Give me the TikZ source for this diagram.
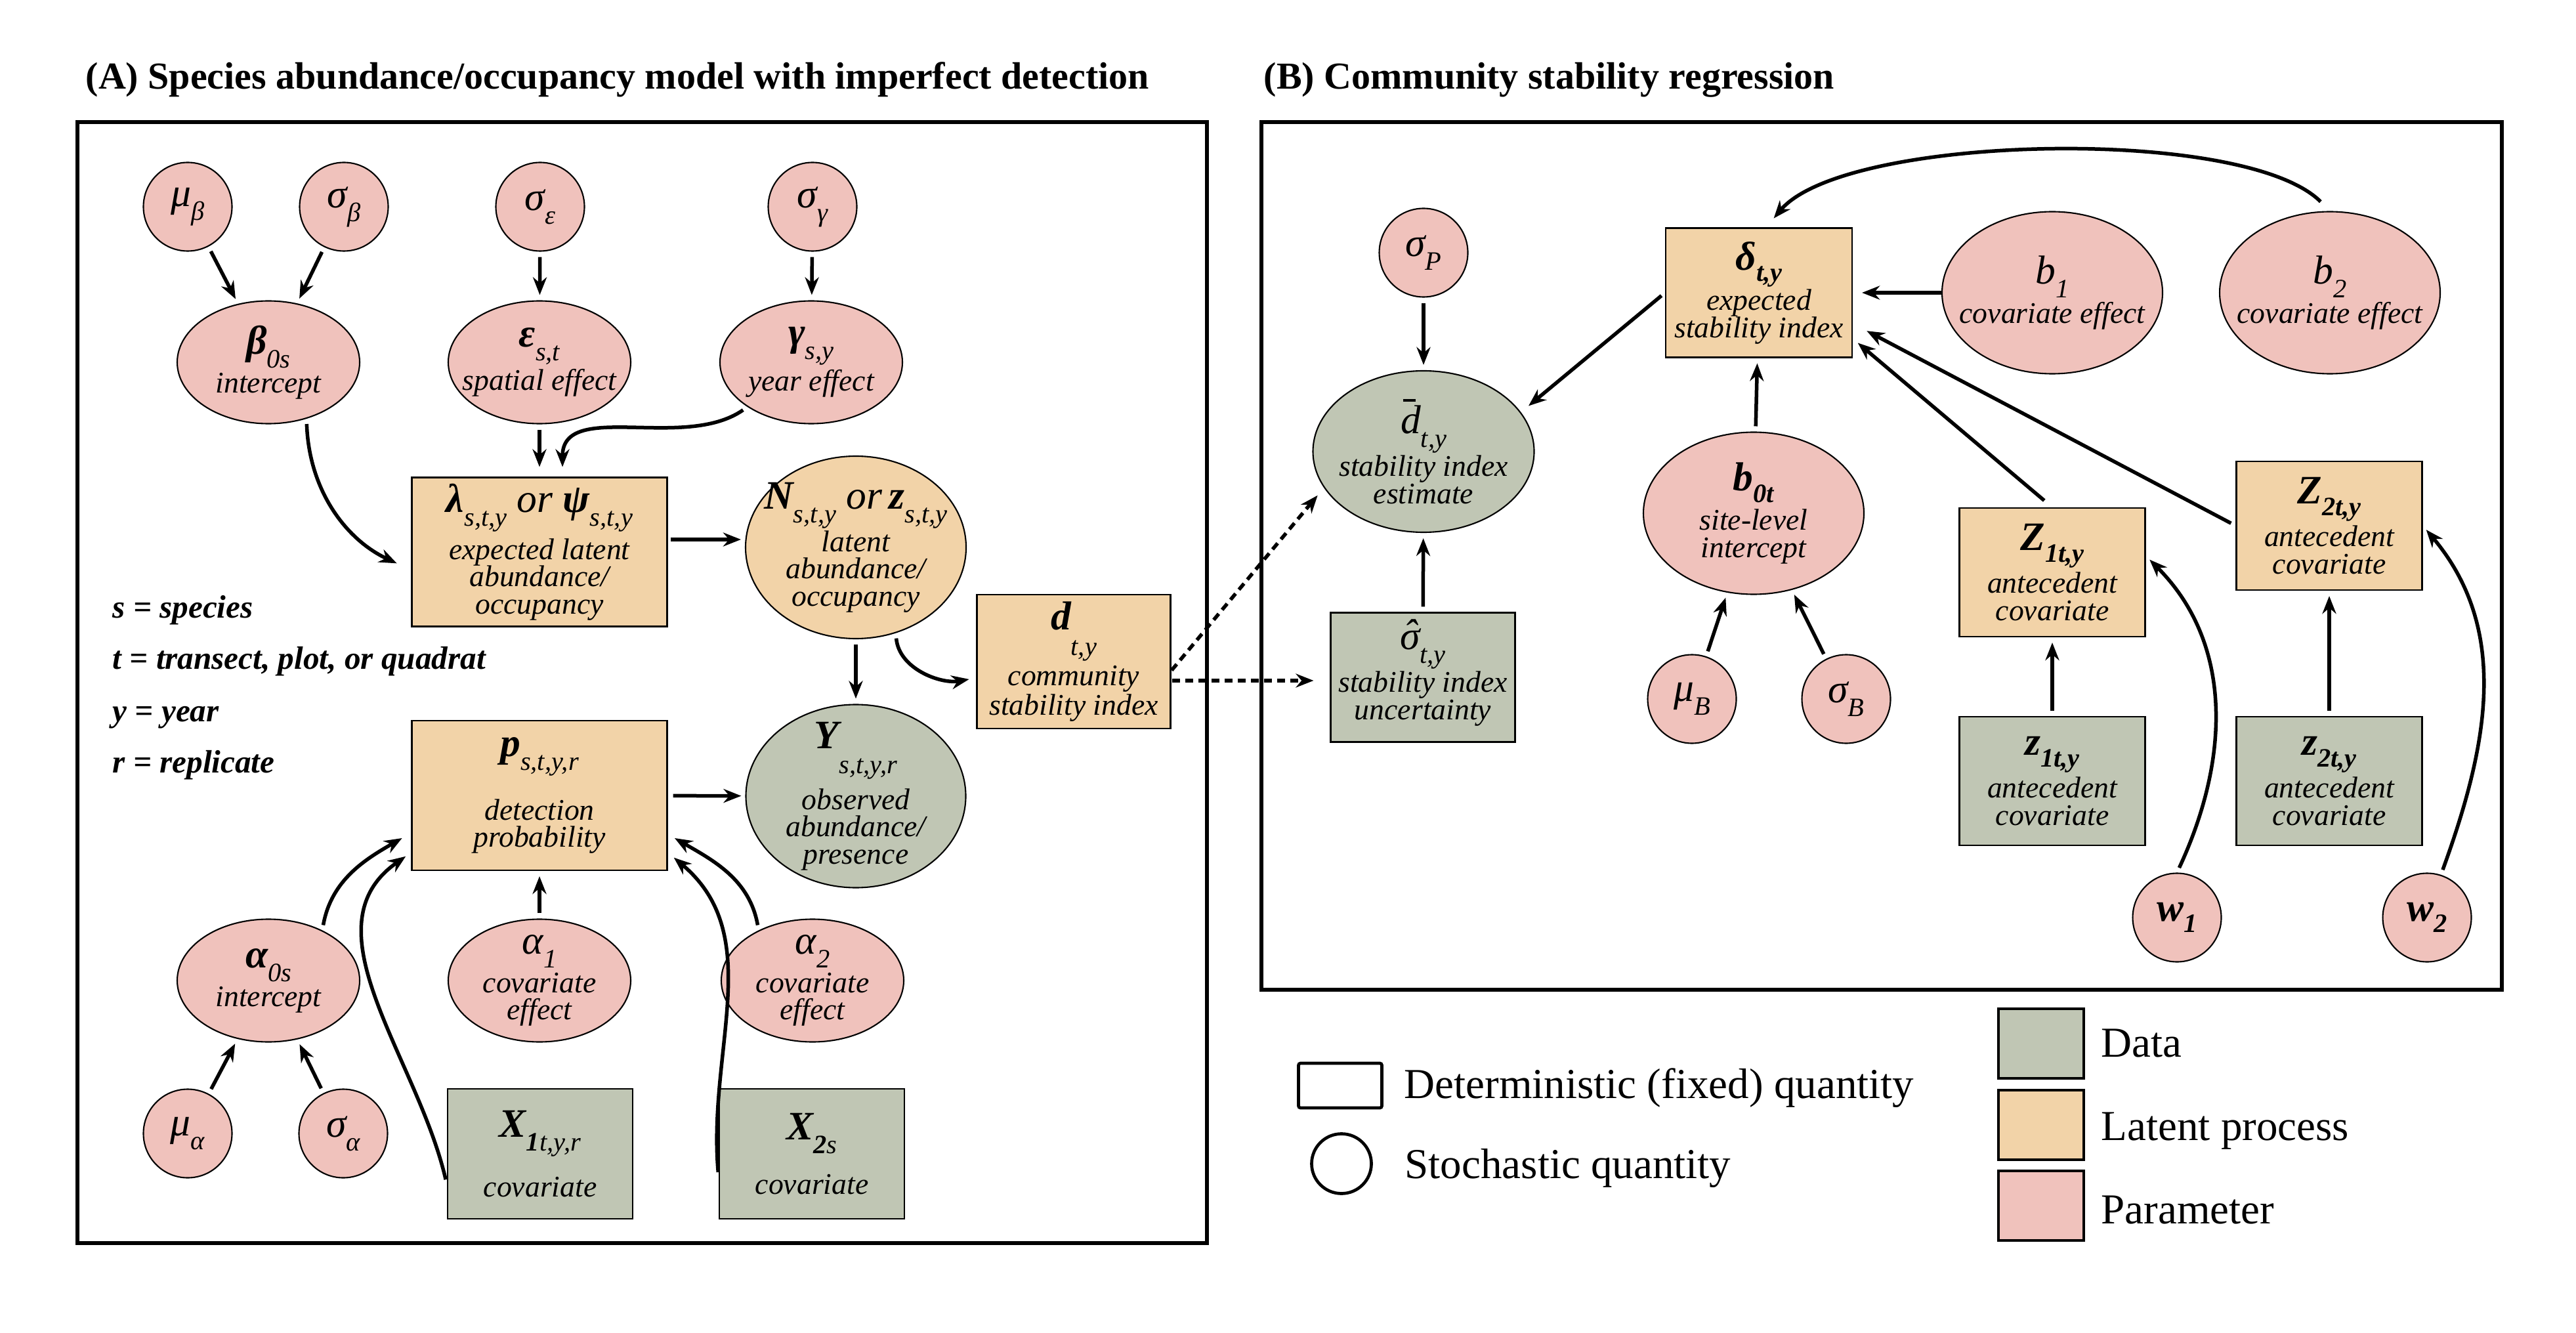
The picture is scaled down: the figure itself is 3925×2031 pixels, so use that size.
\documentclass[tikz,border=0pt]{standalone}
\usepackage{fontspec}
\setmainfont{Liberation Serif}[
  ItalicFont={Liberation Serif Italic},
  BoldFont={Liberation Serif Bold},
  BoldItalicFont={Liberation Serif Bold Italic}]
\usetikzlibrary{shapes.geometric,arrows.meta}

\definecolor{parcol}{RGB}{240,194,188}
\definecolor{latcol}{RGB}{242,211,168}
\definecolor{datcol}{RGB}{192,198,180}

% text helpers
\newcommand\labfont{\fontsize{13}{11.8}\selectfont\itshape}
\newcommand\titlefont{\fontsize{16.5}{18}\selectfont\bfseries}
\newcommand\keyfont{\fontsize{14}{16}\selectfont\bfseries\itshape}
\newcommand\legfont{\fontsize{18.5}{20}\selectfont}
\newcommand\sym[1]{{\fontsize{17.5}{18}\selectfont #1}}
\newcommand\bsym[1]{{\fontsize{17.5}{18}\selectfont\bfseries #1}}
\newcommand\subs[1]{\raisebox{-6pt}{\fontsize{11.5}{11}\selectfont #1}}
\newcommand\bsubs[1]{\raisebox{-5pt}{\fontsize{11.5}{11}\selectfont\bfseries #1}}
\newcommand\lsubs[1]{\raisebox{-11pt}{\fontsize{11.5}{11}\selectfont #1}}
\newcommand\dbarsym{\sym{\rlap{\kern0.06em\raisebox{0.80em}{\rule{0.32em}{0.055em}}}d}}
\newcommand\sighatsym{\sym{\ooalign{σ\cr\hfil\raisebox{0.05em}{\char"02C6}\hfil\cr}}}

\begin{document}
\begin{tikzpicture}[x=0.1mm,y=-0.1mm,
  frame/.style={line width=0.55mm},
  node base/.style={draw=black, line width=0.6pt, align=center, font=\labfont},
  par/.style={node base, ellipse, fill=parcol, inner sep=-4mm},
  parc/.style={par, minimum width=13.5mm, minimum height=13.5mm},
  parE/.style={par, minimum width=27.8mm, minimum height=18.7mm},
  parB/.style={par, minimum width=33.6mm, minimum height=24.7mm},
  latE/.style={node base, ellipse, fill=latcol, inner sep=-4mm, minimum width=33.6mm, minimum height=27.8mm},
  datE/.style={node base, ellipse, fill=datcol, inner sep=-4mm},
  lat/.style={node base, rectangle, fill=latcol, inner sep=0pt},
  dat/.style={node base, rectangle, fill=datcol, inner sep=0pt},
  arr/.style={-{Stealth[length=2.7mm,width=2.1mm]}, line width=0.55mm, shorten <=0.8mm, shorten >=0.8mm},
  dotarr/.style={arr, line width=0.55mm, dash pattern=on 1.2mm off 0.8mm},
  plain/.style={inner sep=0pt, anchor=base west}
]
\useasboundingbox (0,0) rectangle (3925,2031);
\fill[white] (0,0) rectangle (3925,2031);

% panel frames and titles
\draw[frame] (118,186) rectangle (1839,1894);
\draw[frame] (1922,186) rectangle (3812,1508);
\node[plain, font=\titlefont] (titleA) at (130,136) {(A) Species abundance/occupancy model with imperfect detection};
\node[plain, font=\titlefont] (titleB) at (1925,136) {(B) Community stability regression};

% ---------------- panel A ----------------
\node[parc] (mub)  at (286,315)  {\sym{μ}\subs{β}};
\node[parc] (sigb) at (524,315)  {\sym{σ}\subs{β}};
\node[parc] (sige) at (823,315)  {\sym{σ}\subs{ε}};
\node[parc] (sigg) at (1238,315) {\sym{σ}\subs{γ}};

\node[parE] (beta) at (409,552)  {\bsym{β}\subs{0s}\\[1pt]intercept};
\node[parE] (eps)  at (822,552)  {\bsym{ε}\subs{s,t}\\[1pt]spatial effect};
\node[parE] (gam)  at (1236,552) {\bsym{γ}\subs{s,y}\\[1pt]year effect};

\node[lat, minimum width=38.9mm, minimum height=22.7mm] (lam) at (822,841)
  {\bsym{λ}\subs{s,t,y}\sym{ or }\bsym{ψ}\subs{s,t,y}\\[2pt]expected latent\\abundance/\\occupancy};
\node[latE] (N) at (1304,834)
  {\rule{0pt}{10pt}\bsym{N}\subs{s,t,y}\sym{ or\,}\bsym{z}\subs{s,t,y}\\latent\\abundance/\\occupancy};
\node[lat, minimum width=29.5mm, minimum height=20.4mm] (d) at (1636,1008)
  {\bsym{d}\lsubs{t,y}\\[1pt]community\\stability index};

\node[datE, minimum width=33.5mm, minimum height=27.9mm] (Y) at (1304,1213)
  {\bsym{Y}\lsubs{s,t,y,r}\\[3pt]observed\\abundance/\\presence};
\node[lat, minimum width=38.9mm, minimum height=22.8mm] (p) at (822,1212)
  {\bsym{p}\subs{s,t,y,r}\\[9pt]detection\\probability};

\node[parE] (a0) at (409,1494)  {\bsym{α}\subs{0s}\\[1pt]intercept};
\node[parE] (a1) at (822,1494)  {\sym{α}\subs{1}\\[1pt]covariate\\effect};
\node[parE] (a2) at (1238,1494) {\sym{α}\subs{2}\\[1pt]covariate\\effect};

\node[parc] (mua)  at (286,1727) {\sym{μ}\subs{α}};
\node[parc] (siga) at (523,1727) {\sym{σ}\subs{α}};

\node[dat, minimum width=28.2mm, minimum height=19.8mm] (X1) at (823,1758)
  {\bsym{X}\subs{\textbf{1}t,y,r}\\[8pt]covariate};
\node[dat, minimum width=28.2mm, minimum height=19.8mm] (X2) at (1237,1758)
  {\bsym{X}\subs{\textbf{2}s}\\[8pt]covariate};

\node[plain, font=\keyfont] (keys) at (171,941)  {s = species};
\node[plain, font=\keyfont] (keyt) at (171,1019) {t = transect, plot, or quadrat};
\node[plain, font=\keyfont] (keyy) at (171,1099) {y = year};
\node[plain, font=\keyfont] (keyr) at (171,1177) {r = replicate};

% connectors, panel A
\draw[arr] (mub) -- (beta);
\draw[arr] (sigb) -- (beta);
\draw[arr] (sige) -- (eps);
\draw[arr] (sigg) -- (gam);
\draw[arr, shorten >=2.4mm] (beta.-56) to[out=-88,in=155] (lam.188);
\draw[arr, shorten >=1.5mm] (eps) -- (lam);
\draw[arr, shorten >=1.5mm] (gam.215) to[out=215,in=90] (lam.73);
\draw[arr, shorten <=0.4mm, shorten >=0.6mm] ([yshift=1.9mm]lam.east) -- ([yshift=1.9mm]lam.east -| N.west);
\draw[arr] (N) -- (Y);
\draw[arr, shorten >=1.1mm] (N.-65) to[out=-85,in=190] ([yshift=-2.5mm]d.west);
\draw[arr, shorten >=0.6mm] (p) -- (Y);
\draw[arr, shorten >=1.6mm] (a0.43) to[out=80,in=210] ([yshift=-5.7mm]p.west);
\draw[arr, shorten >=1mm] ([yshift=-4.7mm]X1.west) to[out=103,in=215] ([yshift=-8.7mm]p.west);
\draw[arr] (a1) -- (p);
\draw[arr, shorten >=1.2mm] (a2.137) to[out=100,in=-30] ([yshift=-5.9mm]p.east);
\draw[arr, shorten >=1.2mm] ([yshift=-3.6mm]X2.west) to[out=95,in=-40] ([yshift=-8.7mm]p.east);
\draw[arr] (mua) -- (a0);
\draw[arr] (siga) -- (a0);

% ---------------- panel B ----------------
\node[parc] (sigP) at (2169,385) {\sym{σ}\subs{P}};
\node[datE, minimum width=33.7mm, minimum height=24.6mm] (dbar) at (2169,688)
  {\dbarsym\subs{t,y}\\[0pt]stability index\\estimate};
\node[dat, minimum width=28.1mm, minimum height=19.7mm] (sighat) at (2168,1032)
  {\sighatsym\subs{t,y}\\[0pt]stability index\\uncertainty};

\node[lat, minimum width=28.4mm, minimum height=19.7mm] (delta) at (2680,446)
  {\bsym{δ}\bsubs{t,y}\\[0pt]expected\\stability index};
\node[parB] (b0) at (2672,782) {\bsym{b}\bsubs{0t}\\[2pt]site-level\\intercept};
\node[parc] (muB)  at (2578,1065) {\sym{μ}\subs{B}};
\node[parc] (sigB) at (2813,1065) {\sym{σ}\subs{B}};

\node[parB] (b1) at (3127,446) {\sym{b}\subs{1}\\[1pt]covariate effect};
\node[parB] (b2) at (3550,446) {\sym{b}\subs{2}\\[1pt]covariate effect};

\node[lat, minimum width=28.3mm, minimum height=19.6mm] (Z1) at (3127,872)
  {\bsym{Z}\bsubs{1t,y}\\[1pt]antecedent\\covariate};
\node[lat, minimum width=28.3mm, minimum height=19.6mm] (Z2) at (3549,801)
  {\bsym{Z}\bsubs{2t,y}\\[1pt]antecedent\\covariate};
\node[dat, minimum width=28.3mm, minimum height=19.6mm] (z1) at (3127,1190)
  {\bsym{z}\bsubs{1t,y}\\[1pt]antecedent\\covariate};
\node[dat, minimum width=28.3mm, minimum height=19.6mm] (z2) at (3549,1190)
  {\bsym{z}\bsubs{2t,y}\\[1pt]antecedent\\covariate};

\node[parc] (w1) at (3317,1398) {\bsym{w}\bsubs{1}};
\node[parc] (w2) at (3698,1398) {\bsym{w}\bsubs{2}};

% connectors, panel B
\draw[arr] (sigP) -- (dbar);
\draw[arr] (sighat) -- (dbar);
\draw[arr, shorten <=0.7mm, shorten >=1.5mm] (delta.west) -- (dbar.22);
\draw[arr] (b0) -- (delta);
\draw[arr] (muB) -- (b0);
\draw[arr] (sigB) -- (b0);
\draw[arr, shorten <=0mm, shorten >=1.4mm] (b1) -- (delta);
\draw[arr, shorten <=1.6mm, shorten >=1mm] (Z1.north) -- ([yshift=-7mm]delta.east);
\draw[arr, shorten <=0.8mm, shorten >=2.4mm] (Z2.west) -- ([yshift=-4.7mm]delta.east);
\draw[arr] (z1) -- (Z1);
\draw[arr] (z2) -- (Z2);
\draw[arr] (w1.north) to[out=65,in=-45] ([yshift=2.5mm]Z1.east);
\draw[arr] (w2.72) to[out=70,in=-50] (Z2.east);
\draw[arr, shorten <=2mm, shorten >=1.8mm] (b2.north) to[out=135,in=50,looseness=0.55] ([xshift=1.1mm]delta.north);

% links between the two panels
\draw[dotarr, shorten <=0.1mm, shorten >=1.5mm] ([yshift=-1.4mm]d.east) -- (dbar.200);
\draw[dotarr, shorten <=0.1mm, shorten >=2.5mm] ([yshift=-2.9mm]d.east) -- ([yshift=-2.9mm]d.east -| sighat.west);

% ---------------- legend ----------------
\node[draw, line width=0.47mm, rounded corners=0.3mm, minimum width=12.7mm, minimum height=6.8mm, inner sep=0pt] (legdet) at (2042,1654) {};
\node[circle, draw, line width=0.47mm, minimum size=9.1mm, inner sep=0pt] (legsto) at (2044,1773) {};
\node[plain, font=\legfont] (legdettxt) at (2139,1673) {Deterministic (fixed) quantity};
\node[plain, font=\legfont] (legstotxt) at (2140,1795) {Stochastic quantity};

\node[draw, line width=0.35mm, fill=datcol, minimum width=13mm, minimum height=10.6mm, inner sep=0pt] (legdat) at (3110,1590) {};
\node[draw, line width=0.35mm, fill=latcol, minimum width=13mm, minimum height=10.6mm, inner sep=0pt] (leglat) at (3110,1714) {};
\node[draw, line width=0.35mm, fill=parcol, minimum width=13mm, minimum height=10.6mm, inner sep=0pt] (legpar) at (3110,1837) {};
\node[plain, font=\legfont] (legdattxt) at (3201,1610) {Data};
\node[plain, font=\legfont] (leglattxt) at (3201,1737) {Latent process};
\node[plain, font=\legfont] (legpartxt) at (3201,1864) {Parameter};
\end{tikzpicture}
\end{document}
